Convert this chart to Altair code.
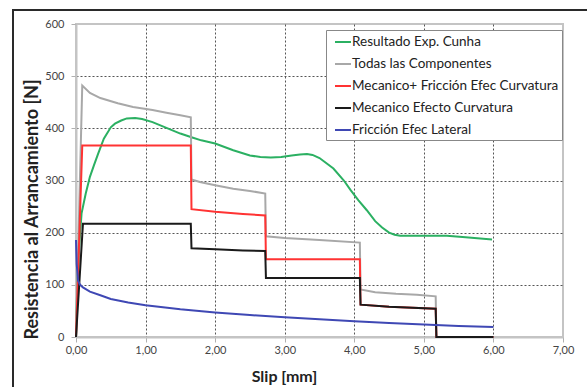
import altair as alt
import pandas as pd

series_names = [
    "Resultado Exp. Cunha",
    "Todas las Componentes",
    "Mecanico+ Fricción Efec Curvatura",
    "Mecanico Efecto Curvatura",
    "Fricción Efec Lateral",
]
series_colors = ["#2bb062", "#a8a8a8", "#ff3333", "#1a1a1a", "#3f48b4"]

green_x = [0, 0.02, 0.05, 0.08, 0.14, 0.2, 0.26, 0.32, 0.4, 0.5, 0.56, 0.65, 0.73, 0.85, 0.95,
           1.1, 1.3, 1.5, 1.66, 1.8, 2.0, 2.26, 2.5, 2.65, 2.8, 2.95, 3.1, 3.22, 3.32, 3.4, 3.5,
           3.6, 3.7, 3.85, 3.95, 4.06, 4.18, 4.3, 4.4, 4.5, 4.58, 4.66, 5.0, 5.33, 5.6, 5.98]
green_y = [0, 110, 180, 237, 275, 307, 330, 352, 380, 402, 409, 415, 419, 420, 418,
           412, 401, 390, 383, 377, 371, 358, 348, 345, 344, 345, 348, 350, 351, 349, 343,
           333, 323, 300, 281, 262, 243, 222, 210, 200, 196, 194, 194, 194, 191, 187]

gray_x = [0, 0.09, 0.2, 0.35, 0.6, 0.82, 1.1, 1.3, 1.5, 1.65, 1.66, 1.78, 2.0, 2.26, 2.5, 2.72,
          2.73, 3.0, 3.5, 4.08, 4.09, 4.3, 4.6, 4.9, 5.17, 5.18, 6.0]
gray_y = [0, 482, 468, 458, 448, 441, 435, 430, 425, 421, 302, 297, 291, 284, 280, 275,
          193, 190, 186, 181, 91, 86, 83, 81, 78, 0, 0]

red_x = [0, 0.09, 1.65, 1.66, 2.0, 2.4, 2.72, 2.73, 4.08, 4.09, 4.5, 5.17, 5.18, 6.0]
red_y = [0, 367, 367, 245, 240, 236, 233, 149, 149, 62, 58, 54, 0, 0]

black_x = [0, 0.1, 1.65, 1.66, 2.0, 2.4, 2.72, 2.73, 4.08, 4.09, 4.5, 5.17, 5.18, 6.0]
black_y = [0, 217, 217, 170, 168, 166, 165, 113, 113, 62, 58, 54, 0, 0]

blue_x = [0, 0.01, 0.03, 0.06, 0.1, 0.2, 0.35, 0.5, 0.75, 1.0, 1.5, 2.0, 2.5, 3.0, 3.5,
          4.0, 4.5, 5.0, 5.5, 6.0]
blue_y = [186, 140, 108, 100, 95, 87, 80, 73, 66, 61, 53, 47, 42, 38, 34,
          30, 27, 24, 21, 19]

all_x = [green_x, gray_x, red_x, black_x, blue_x]
all_y = [green_y, gray_y, red_y, black_y, blue_y]

rows = []
for name, xs, ys in zip(series_names, all_x, all_y):
    for i, (xv, yv) in enumerate(zip(xs, ys)):
        rows.append({"serie": name, "i": i, "slip": xv, "fuerza": yv})
df = pd.DataFrame(rows)

FONT = "Lato"

lines = alt.Chart(df).mark_line(strokeWidth=2).encode(
    x=alt.X("slip:Q",
            scale=alt.Scale(domain=[0, 7], nice=False),
            axis=alt.Axis(
                values=[0, 1, 2, 3, 4, 5, 6, 7],
                labelExpr="replace(format(datum.value, '.2f'), '.', ',')",
                labelFlush=False,
                title="Slip [mm]",
                titleX=208, titleY=39, titleAlign="center", titleBaseline="middle",
                gridOpacity={"condition": {"test": "datum.value <= 0 || datum.value >= 7", "value": 0}, "value": 1},
            )),
    y=alt.Y("fuerza:Q",
            scale=alt.Scale(domain=[0, 600], nice=False),
            axis=alt.Axis(
                values=[0, 100, 200, 300, 400, 500, 600],
                labelFlush=False,
                title="Resistencia al Arrancamiento [N]",
                titleX=-44, titleY=185, titleAlign="center", titleBaseline="middle",
                titleAngle=270, titleFontSize=18,
                labelPadding=7,
                gridOpacity={"condition": {"test": "datum.value <= 0 || datum.value >= 600", "value": 0}, "value": 1},
            )),
    color=alt.Color("serie:N",
                    scale=alt.Scale(domain=series_names, range=series_colors),
                    sort=series_names,
                    legend=alt.Legend(
                        title=None, orient="none", legendX=250, legendY=6,
                        symbolType="stroke", symbolSize=256, symbolStrokeWidth=2,
                        symbolOffset=5,
                        labelFontSize=13.5, labelColor="#222", labelFont=FONT,
                        labelOffset=0, rowPadding=6,
                        strokeColor="#888", fillColor="white", padding=3,
                        labelLimit=300,
                    )),
    detail="serie:N",
    order=alt.Order("i:Q"),
)

frame_left = alt.Chart(df).mark_rule(color="#2a2a2a", strokeWidth=2).encode(
    x=alt.value(-63), y=alt.value(-14), y2=alt.value(400))
frame_top = alt.Chart(df).mark_rule(color="#2a2a2a", strokeWidth=2).encode(
    x=alt.value(-64), x2=alt.value(600), y=alt.value(-14))

chart = alt.layer(lines, frame_left, frame_top).properties(
    width=487, height=313,
    autosize=alt.AutoSizeParams(type="none"),
    padding={"left": 76, "top": 24, "right": 24, "bottom": 50},
).configure_view(
    stroke="#c4c4c4", strokeWidth=2
).configure_axis(
    grid=True, gridColor="#555", gridDash=[2, 2], gridWidth=1,
    domainColor="#c4c4c4", domainWidth=2,
    tickColor="#b0b0b0", tickSize=5,
    labelFont=FONT, labelFontSize=11, labelColor="#444",
    titleFont=FONT, titleFontSize=15, titleFontWeight="bold", titleColor="#222",
).configure_axisX(
    labelPadding=2, titleFontSize=16,
)

chart.save("out.html", embed_options={"renderer": "svg", "actions": False})
